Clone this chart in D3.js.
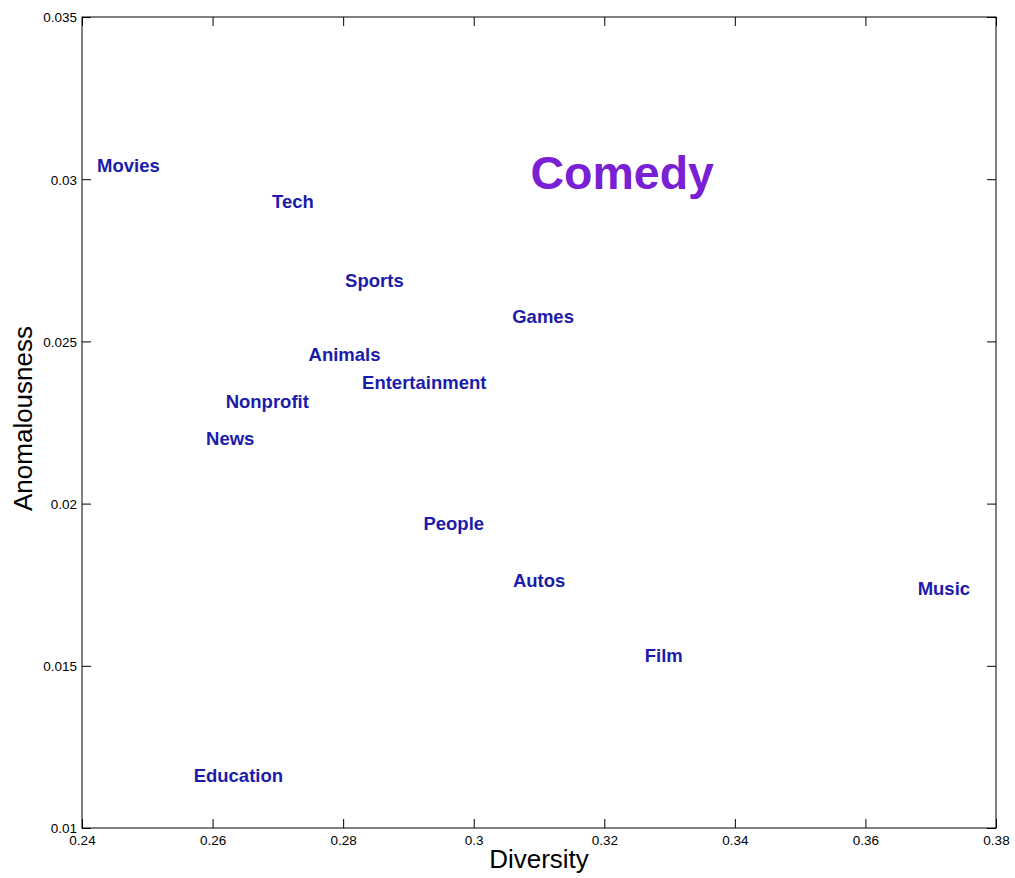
<!DOCTYPE html>
<html>
<head>
<meta charset="utf-8">
<script src="https://cdn.jsdelivr.net/npm/d3@7"></script>
<style>
  html, body { margin: 0; padding: 0; background: #fff; }
  svg { display: block; }
  text { font-family: Arial, "Liberation Sans", sans-serif; }
</style>
</head>
<body>
<svg id="chart" width="1015" height="878"></svg>
<script>
// Channel categories placed by diversity (x) and anomalousness (y)
const categories = ["Movies", "Tech", "Sports", "Games", "Animals", "Entertainment",
  "Nonprofit", "News", "People", "Autos", "Film", "Music", "Education", "Comedy"];
const diversity = [0.2423, 0.2691, 0.2803, 0.3059, 0.2747, 0.2829,
  0.2620, 0.2590, 0.2923, 0.3060, 0.3262, 0.3680, 0.2571, 0.3087];
const anomalousness = [0.03042, 0.02932, 0.02689, 0.02578, 0.02461, 0.02373,
  0.02314, 0.02201, 0.01939, 0.01764, 0.01532, 0.01739, 0.01161, 0.03020];
const highlighted = ["Comedy"];

const xTicks = [0.24, 0.26, 0.28, 0.30, 0.32, 0.34, 0.36, 0.38];
const xTickLabels = ["0.24", "0.26", "0.28", "0.3", "0.32", "0.34", "0.36", "0.38"];
const yTicks = [0.01, 0.015, 0.02, 0.025, 0.03, 0.035];
const yTickLabels = ["0.01", "0.015", "0.02", "0.025", "0.03", "0.035"];

const svg = d3.select("#chart");
const plot = { left: 82, right: 996, top: 17, bottom: 828 };

const x = d3.scaleLinear().domain([0.24, 0.38]).range([plot.left, plot.right]);
const y = d3.scaleLinear().domain([0.01, 0.035]).range([plot.bottom, plot.top]);

const tickLen = 9;
const fmtX = v => xTickLabels[xTicks.indexOf(v)];
const fmtY = v => yTickLabels[yTicks.indexOf(v)];

// Axes: inward ticks on all four sides, labels on left and bottom
const axBottom = svg.append("g").attr("transform", `translate(0,${plot.bottom})`)
  .call(d3.axisBottom(x).tickValues(xTicks).tickFormat(fmtX)
    .tickSizeInner(-tickLen).tickSizeOuter(0).tickPadding(6));
const axTop = svg.append("g").attr("transform", `translate(0,${plot.top})`)
  .call(d3.axisTop(x).tickValues(xTicks).tickFormat("")
    .tickSizeInner(-tickLen).tickSizeOuter(0));
const axLeft = svg.append("g").attr("transform", `translate(${plot.left},0)`)
  .call(d3.axisLeft(y).tickValues(yTicks).tickFormat(fmtY)
    .tickSizeInner(-tickLen).tickSizeOuter(0).tickPadding(5));
const axRight = svg.append("g").attr("transform", `translate(${plot.right},0)`)
  .call(d3.axisRight(y).tickValues(yTicks).tickFormat("")
    .tickSizeInner(-tickLen).tickSizeOuter(0));

[axBottom, axTop, axLeft, axRight].forEach(g => {
  g.select(".domain").remove();
  g.selectAll(".tick line").attr("stroke", "#000").attr("stroke-width", 1);
  g.selectAll(".tick text").attr("fill", "#000")
    .style("font-family", "Arial, 'Liberation Sans', sans-serif")
    .style("font-size", "13.5px");
});
axBottom.selectAll(".tick text").attr("y", 0).attr("dy", "16.5px");
axLeft.selectAll(".tick text").attr("x", -5).attr("dy", "0.36em");

// Plot frame
svg.append("rect")
  .attr("x", plot.left).attr("y", plot.top)
  .attr("width", plot.right - plot.left).attr("height", plot.bottom - plot.top)
  .attr("fill", "none").attr("stroke", "#000").attr("stroke-width", 1);

// Category labels, anchored at their data point (left edge, vertical middle)
const points = categories.map((c, i) => ({ name: c, dx: diversity[i], an: anomalousness[i] }));
svg.append("g").selectAll("text")
  .data(points)
  .join("text")
  .attr("x", d => x(d.dx))
  .attr("y", d => y(d.an))
  .attr("dy", "0.36em")
  .attr("text-anchor", "start")
  .attr("font-weight", "bold")
  .attr("font-size", d => highlighted.includes(d.name) ? "46.5px" : "18.5px")
  .attr("fill", d => highlighted.includes(d.name) ? "#7a20d4" : "#1c1caa")
  .text(d => d.name);

// Axis titles
svg.append("text")
  .attr("x", (plot.left + plot.right) / 2).attr("y", 868)
  .attr("text-anchor", "middle")
  .attr("font-size", "26px").attr("fill", "#000")
  .text("Diversity");
svg.append("text")
  .attr("transform", `translate(32,${(plot.top + plot.bottom) / 2 - 4}) rotate(-90)`)
  .attr("text-anchor", "middle")
  .attr("font-size", "26px").attr("fill", "#000")
  .text("Anomalousness");
</script>
</body>
</html>
